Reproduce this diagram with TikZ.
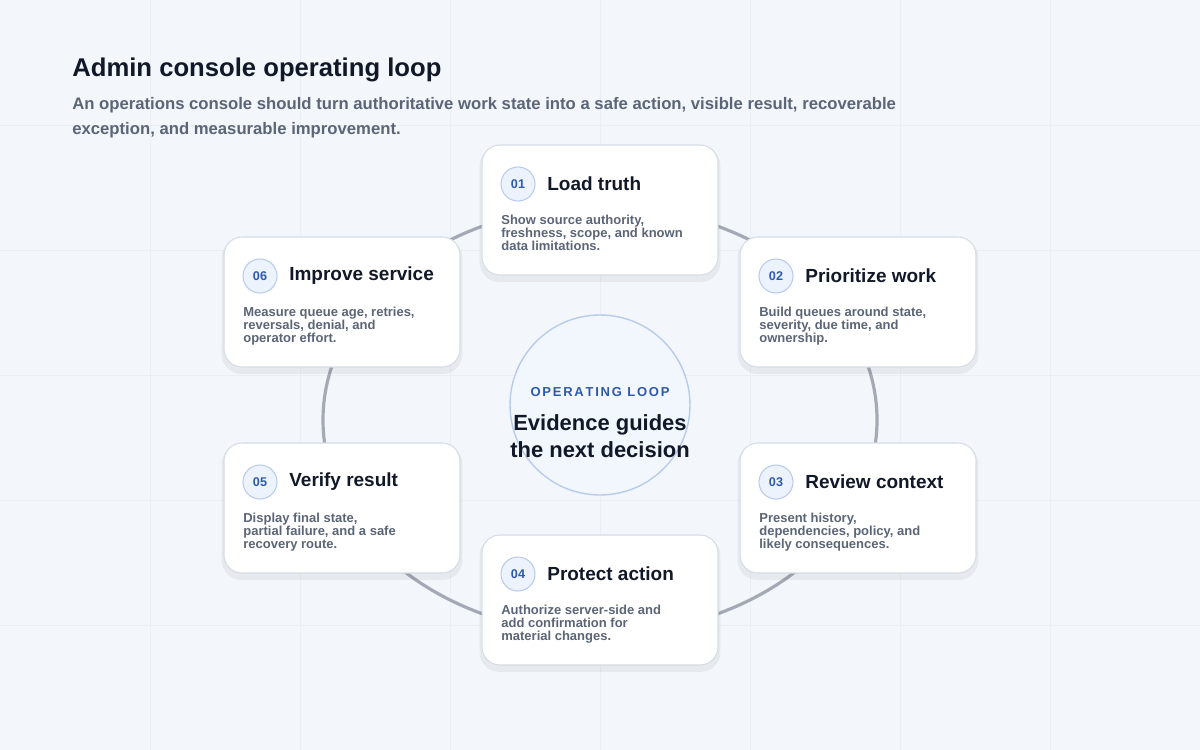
\documentclass[tikz,border=0pt]{standalone}
\usepackage{fontspec}
\setmainfont{Liberation Sans}
\definecolor{bg}{HTML}{F3F6FB}
\definecolor{grid}{HTML}{EAEEF5}
\definecolor{ink}{HTML}{111827}
\definecolor{sub}{HTML}{5B6576}
\definecolor{ring}{HTML}{A3A9B5}
\definecolor{cardline}{HTML}{D7DDE6}
\definecolor{numfill}{HTML}{EDF3FD}
\definecolor{numline}{HTML}{B8CBEA}
\definecolor{blue}{HTML}{2E5AAC}
\begin{document}
\begin{tikzpicture}[x=0.02cm,y=-0.02cm,
  card/.style={draw=cardline,fill=white,rounded corners=0.36cm,minimum width=4.72cm,minimum height=2.6cm,line width=0.6pt},
  shade/.style={fill=black,opacity=0.05,rounded corners=0.4cm,minimum width=4.82cm,minimum height=2.72cm},
  num/.style={circle,draw=numline,fill=numfill,minimum size=0.68cm,inner sep=0pt,line width=0.6pt,font=\fontsize{7.2}{8}\selectfont\bfseries,text=blue},
  ttl/.style={anchor=west,inner sep=0pt,font=\fontsize{10.8}{12}\selectfont\bfseries,text=ink},
  body/.style={anchor=north west,inner sep=0pt,align=left,font=\fontsize{7.4}{7.4}\selectfont\bfseries,text=sub}]
\fill[bg] (0,0) rectangle (1200,750);
\useasboundingbox (0,0) rectangle (1200,750);
\foreach \x in {150,300,...,1050} \draw[grid,line width=0.5pt] (\x,0)--(\x,750);
\foreach \y in {125,250,...,625} \draw[grid,line width=0.5pt] (0,\y)--(1200,\y);
\draw[ring,line width=1.8pt] (600,420) ellipse[x radius=277,y radius=214];
\node[anchor=west,inner sep=0pt,font=\fontsize{14.6}{16}\selectfont\bfseries,text=ink] (title) at (72,70) {Admin console operating loop};
\node[anchor=north west,inner sep=0pt,align=left,font=\fontsize{9.5}{14.2}\selectfont\bfseries,text=sub] (subt) at (72,97) {An operations console should turn authoritative work state into a safe action, visible result, recoverable\\exception, and measurable improvement.};
\node[circle,draw=numline,fill=numfill!70!white,minimum size=3.6cm,line width=0.8pt] (hub) at (600,405) {};
\node[font=\fontsize{7.4}{8}\selectfont\bfseries,text=blue,inner sep=0pt] (hk) at (600,392) {O\kern1ptP\kern1ptE\kern1ptR\kern1ptA\kern1ptT\kern1ptI\kern1ptN\kern1ptG\ \kern1ptL\kern1ptO\kern1ptO\kern1ptP};
\node[align=center,font=\fontsize{12.5}{15}\selectfont\bfseries,text=ink,inner sep=0pt] (hm) at (600,436) {Evidence guides\\the next decision};
\foreach \n/\cx/\cy/\t/\b in {
 01/600/210/Load truth/{Show source authority,\\freshness, scope, and known\\data limitations.},
 02/858/302/Prioritize work/{Build queues around state,\\severity, due time, and\\ownership.},
 03/858/508/Review context/{Present history,\\dependencies, policy, and\\likely consequences.},
 04/600/600/Protect action/{Authorize server-side and\\add confirmation for\\material changes.},
 05/342/508/Verify result/{Display final state,\\partial failure, and a safe\\recovery route.},
 06/342/302/Improve service/{Measure queue age, retries,\\reversals, denial, and\\operator effort.}}{
 \node[shade] (s\n) at (\cx,\cy+4) {};
 \node[card] (c\n) at (\cx,\cy) {};
 \node[num] (n\n) at (\cx-82,\cy-26) {\n};
 \node[ttl] (t\n) at (\cx-53,\cy-26) {\t};
 \node[body] (b\n) at (\cx-99,\cy+5) {\b};
}
\end{tikzpicture}
\end{document}
